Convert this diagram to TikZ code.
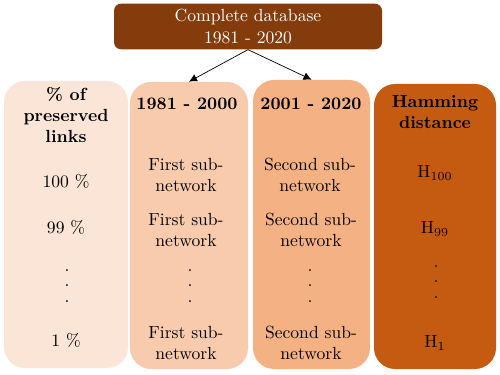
\documentclass[tikz,border=0pt]{standalone}
\usepackage{xcolor}
\usetikzlibrary{arrows.meta,positioning}
\definecolor{Dark}{HTML}{843C0C}
\definecolor{Pale}{HTML}{FBE5D6}
\definecolor{Light}{HTML}{F8CBAD}
\definecolor{Mid}{HTML}{F4B183}
\definecolor{Rust}{HTML}{C55A11}
\begin{document}
\begin{tikzpicture}[
    col/.style={rounded corners=12pt, minimum height=5.74cm},
    head/.style={align=center, font=\bfseries},
    cell/.style={align=center},
    vdots/.style={align=center},
    arr/.style={-{Latex[length=1.6mm,width=1.6mm]}, draw=black, line width=0.4pt}
  ]
    \useasboundingbox (0,0) rectangle (10,7.48);
    \node[fill=Dark, text=white, rounded corners=4pt, minimum width=5.36cm, minimum height=0.9cm, align=center] (db) at (4.96,6.95) {Complete database\\1981 - 2020};
    \node[col, fill=Pale, minimum width=2.48cm] (pct) at (1.32,2.99) {};
    \node[col, fill=Light, minimum width=2.36cm] (a) at (3.78,2.97) {};
    \node[col, fill=Mid, minimum width=2.34cm, minimum height=5.78cm] (b) at (6.23,2.99) {};
    \node[col, fill=Rust, minimum width=2.44cm, minimum height=5.7cm] (h) at (8.70,2.95) {};
    \draw[arr] (db.south) -- (a.north);
    \draw[arr] (db.south) -- (b.north);
    % headers
    \node[head] (pcth) at (1.32,5.18) {\% of\\preserved\\links};
    \node[head] (ah) at (3.74,5.40) {1981 - 2000};
    \node[head] (bh) at (6.22,5.40) {2001 - 2020};
    \node[head] (hh) at (8.70,5.24) {Hamming\\distance};
    % rows
    \node[cell] (p1) at (1.32,3.86) {100 \%};
    \node[cell] (p2) at (1.32,2.94) {99 \%};
    \node[vdots] (p3) at (1.34,1.76) {.\\[-3pt].\\[-3pt].};
    \node[cell] (p4) at (1.32,0.68) {1 \%};
    \node[cell] (a1) at (3.72,3.98) {First sub-\\network};
    \node[cell] (a2) at (3.72,2.88) {First sub-\\network};
    \node[vdots] (a3) at (3.80,1.76) {.\\[-3pt].\\[-3pt].};
    \node[cell] (a4) at (3.72,0.62) {First sub-\\network};
    \node[cell] (b1) at (6.20,3.98) {Second sub-\\network};
    \node[cell] (b2) at (6.22,2.88) {Second sub-\\network};
    \node[vdots] (b3) at (6.20,1.76) {.\\[-3pt].\\[-3pt].};
    \node[cell] (b4) at (6.22,0.62) {Second sub-\\network};
    \node[cell] (h1) at (8.70,4.02) {H$_{100}$};
    \node[cell] (h2) at (8.70,2.90) {H$_{99}$};
    \node[vdots] (h3) at (8.72,1.84) {.\\[-3pt].\\[-3pt].};
    \node[cell] (h4) at (8.70,0.62) {H$_1$};
  \end{tikzpicture}
\end{document}
